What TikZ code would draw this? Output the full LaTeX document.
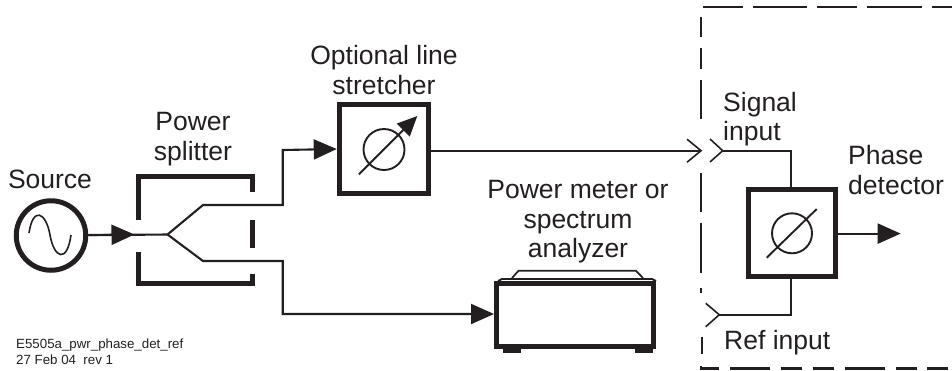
\documentclass[tikz,border=0pt]{standalone}
\usepackage{fontspec}
\setmainfont{Liberation Sans}
\usetikzlibrary{arrows,arrows.meta}
\definecolor{ink}{RGB}{35,31,32}
\tikzset{
  lbl/.style={align=center,font=\fontsize{26.5}{29.5}\selectfont,inner sep=0pt,text=ink},
  thin line/.style={line width=2.1pt,color=ink},
  thick line/.style={line width=5pt,color=ink},
  dash line/.style={line width=2.2pt,color=ink},
  solid tip/.style={-{Triangle[length=23pt,width=20pt]}},
}
\begin{document}
\begin{tikzpicture}[x=1pt,y=-1pt]
\useasboundingbox (0,0) rectangle (952,370);

% source
\node[circle,draw=ink,line width=5pt,minimum size=69.5pt,inner sep=0pt] (source) at (51,235.5) {};
\draw[line width=1.6pt,color=ink] (29,233) .. controls (33,206) and (46,212) .. (50,235) .. controls (54,258) and (67,264) .. (71,235);
\node[lbl] (sourcelabel) at (50,179.5) {Source};

% splitter
\draw[thick line] (138.5,220) -- (138.5,176.5) -- (252.5,176.5) -- (252.5,192);
\draw[thick line] (138.5,252) -- (138.5,283.5) -- (252.5,283.5) -- (252.5,274);
\draw[thick line] (252.5,220) -- (252.5,248);
\node[lbl] (splitterlabel) at (193,139) {Power\\splitter};
\coordinate (split) at (167.5,234.5);
\coordinate (upper) at (203,205);
\coordinate (lower) at (203,261);
\draw[thin line] (source) -- (split);
\draw[thin line,solid tip] (source) -- (134.5,234.5);

% stretcher
\node[draw=ink,line width=5pt,minimum size=89.5pt,inner sep=0pt] (stretcher) at (384,149) {};
\node[circle,draw=ink,line width=1.9pt,minimum size=41pt,inner sep=0pt] (stretchphase) at (384,149.5) {};
\draw[line width=1.9pt,color=ink,-{Triangle[length=20pt,width=18pt]}] (359,174.3) -- (417.3,116);
\node[lbl] (stretcherlabel) at (384,70) {Optional line\\stretcher};
\draw[thin line,solid tip] (split) -- (upper) -- (282.7,205) -- (282.7,150) -- (stretcher.west);

% meter
\node[draw=ink,line width=5pt,minimum width=157pt,minimum height=63pt,inner sep=0pt] (meter) at (575,315) {};
\draw[line width=1.7pt,color=ink] (512,278) -- (518.5,270.8) -- (636,270.8) -- (643,278);
\draw[line width=1.9pt,color=ink] (498,281) -- (502,279) -- (652,279) -- (656,281);
\fill[ink] (503,348) rectangle (521,352.7);
\fill[ink] (635,348) rectangle (653,352.7);
\node[lbl] (meterlabel) at (578,222) {Power meter or\\spectrum\\analyzer};
\coordinate (meter in) at (494,314);
\draw[thin line,solid tip] (split) -- (lower) -- (282.7,261) -- (282.7,314) -- (meter in);

% phase detector
\draw[dash line] (703.3,7.3) -- (742.7,7.3);
\draw[dash line] (753.3,7.3) -- (806.7,7.3);
\draw[dash line] (817.3,7.3) -- (857.3,7.3);
\draw[dash line] (867.3,7.3) -- (921.7,7.3);
\draw[dash line] (931.7,7.3) -- (952,7.3);
\draw[dash line] (701,16.7) -- (701,37);
\draw[dash line] (701,48) -- (701,69);
\draw[dash line] (701,80) -- (701,119.3);
\draw[dash line] (701,172.7) -- (701,211.7);
\draw[dash line] (701,222.7) -- (701,273.3);
\draw[dash line] (701,288) -- (701,292.7);
\draw[dash line] (702.3,336.7) -- (702.3,354.3);
\draw[dash line] (701,366) -- (701,368.5) -- (719.3,368.5);
\foreach \dashstart/\dashend in {730/770,780.7/801.7,812.7/834,845/885,895.7/916.7,927.3/948}
  \draw[dash line] (\dashstart,368.5) -- (\dashend,368.5);
\node[draw=ink,line width=5pt,minimum size=87.5pt,inner sep=0pt] (detector) at (792,233) {};
\node[circle,draw=ink,line width=1.9pt,minimum size=40pt,inner sep=0pt] (detectphase) at (792,233.3) {};
\draw[line width=1.9pt,color=ink] (766.7,257.7) -- (816.7,209);
\node[lbl,align=left,anchor=west] (signallabel) at (723,119) {Signal\\input};
\node[lbl,align=left,anchor=west] (phaselabel) at (848,170) {Phase\\detector};
\node[lbl,anchor=west] (reflabel) at (724,343) {Ref input};
\coordinate (signal in) at (722.7,150.7);
\coordinate (ref in) at (719.3,314.7);
\coordinate (out) at (900.7,233.6);
\draw[thin line,-{Straight Barb[length=14pt,width=23pt,line width=1.6pt]}] (stretcher.east |- signal in) -- (702.3,150.7);
\draw[thin line] (signal in) -- (791,150.7) -- (791,187);
\draw[line width=1.6pt,color=ink] (710,139) -- (signal in) -- (710,162);
\draw[thin line] (ref in) -- (791,314.7) -- (791,279);
\draw[line width=1.6pt,color=ink] (705.7,303.3) -- (ref in) -- (705.7,326.7);
\draw[thin line,solid tip] (detector.east |- out) -- (out);

% revision note
\node[anchor=west,inner sep=0pt,font=\fontsize{13.3}{16}\selectfont,align=left,text=ink] (datelabel) at (16,351.5) {E5505a\_pwr\_phase\_det\_ref\\27 Feb 04\ \ rev 1};
\end{tikzpicture}
\end{document}
